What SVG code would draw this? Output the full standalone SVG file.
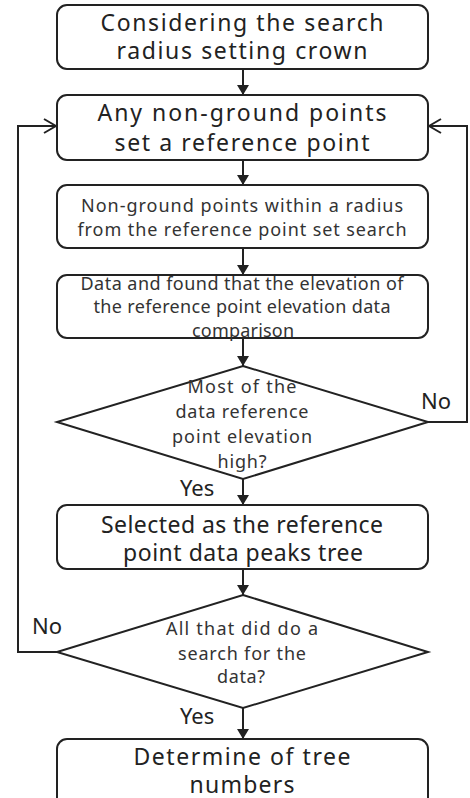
<svg xmlns="http://www.w3.org/2000/svg" width="470" height="798" viewBox="0 0 470 798">
<defs>
<style>
.box{fill:#fff;stroke:#222;stroke-width:2}
.ln{fill:none;stroke:#222;stroke-width:2}
.t{font-family:"Noto Sans","DejaVu Sans",sans-serif;fill:#222;text-anchor:middle}
.big{font-size:23px}
.sm{font-size:18px;fill:#333}
.lab{font-family:"Noto Sans","DejaVu Sans",sans-serif;fill:#222;font-size:22px}
</style>
<marker id="fa" markerWidth="12" markerHeight="12" refX="10" refY="6" orient="auto" markerUnits="userSpaceOnUse">
<path d="M0,0 L10,6 L0,12 Z" fill="#222"/>
</marker>
<marker id="oa" markerWidth="14" markerHeight="16" refX="13" refY="8" orient="auto" markerUnits="userSpaceOnUse">
<path d="M1,1 L13,8 L1,15" fill="none" stroke="#222" stroke-width="2"/>
</marker>
</defs>
<rect width="470" height="798" fill="#fff"/>

<g id="connectors">
<line class="ln" x1="243" y1="69" x2="243" y2="95" marker-end="url(#fa)"/>
<line class="ln" x1="243" y1="160" x2="243" y2="185" marker-end="url(#fa)"/>
<line class="ln" x1="243" y1="248" x2="243" y2="275" marker-end="url(#fa)"/>
<line class="ln" x1="243" y1="338" x2="243" y2="366" marker-end="url(#fa)"/>
<line class="ln" x1="243" y1="479" x2="243" y2="505" marker-end="url(#fa)"/>
<line class="ln" x1="243" y1="569" x2="243" y2="595" marker-end="url(#fa)"/>
<line class="ln" x1="243" y1="708" x2="243" y2="739" marker-end="url(#fa)"/>
<polyline class="ln" points="428,422 467,422 467,126 429,126" marker-end="url(#oa)"/>
<polyline class="ln" points="57,652 18,652 18,126 56,126" marker-end="url(#oa)"/>
<text class="lab" x="421" y="409">No</text>
<text class="lab" x="32" y="634">No</text>
<text class="lab" x="180" y="496">Yes</text>
<text class="lab" x="180" y="724">Yes</text>
</g>

<g id="n1">
<rect class="box" x="57" y="5" width="371" height="64" rx="10"/>
<text class="t big" x="242" y="31" textLength="283" lengthAdjust="spacing">Considering the search</text>
<text class="t big" x="242" y="59" textLength="251" lengthAdjust="spacing">radius setting crown</text>
</g>

<g id="n2">
<rect class="box" x="57" y="95" width="371" height="65" rx="10"/>
<text class="t big" x="242" y="121" textLength="289" lengthAdjust="spacing">Any non-ground points</text>
<text class="t big" x="242" y="151" textLength="255" lengthAdjust="spacing">set a reference point</text>
</g>

<g id="n3">
<rect class="box" x="57" y="185" width="371" height="63" rx="10"/>
<text class="t sm" x="242" y="212" textLength="322" lengthAdjust="spacing">Non-ground points within a radius</text>
<text class="t sm" x="242" y="236" textLength="329" lengthAdjust="spacing">from the reference point set search</text>
</g>

<g id="n4">
<rect class="box" x="57" y="275" width="371" height="63" rx="10"/>
<text class="t sm" x="242" y="290" textLength="323" lengthAdjust="spacing">Data and found that the elevation of</text>
<text class="t sm" x="242" y="313" textLength="297" lengthAdjust="spacing">the reference point elevation data</text>
<text class="t sm" x="243" y="337" textLength="102" lengthAdjust="spacing">comparison</text>
</g>

<g id="n5">
<polygon class="box" points="243,366 428,422 243,479 57,422"/>
<text class="t sm" x="242" y="393" textLength="109" lengthAdjust="spacing">Most of the</text>
<text class="t sm" x="242" y="418" textLength="133" lengthAdjust="spacing">data reference</text>
<text class="t sm" x="242" y="443" textLength="140" lengthAdjust="spacing">point elevation</text>
<text class="t sm" x="242" y="468" textLength="49" lengthAdjust="spacing">high?</text>
</g>

<g id="n6">
<rect class="box" x="57" y="505" width="371" height="64" rx="10"/>
<text class="t big" x="242" y="533" textLength="282" lengthAdjust="spacing">Selected as the reference</text>
<text class="t big" x="243" y="561" textLength="240" lengthAdjust="spacing">point data peaks tree</text>
</g>

<g id="n7">
<polygon class="box" points="243,595 428,652 243,708 57,652"/>
<text class="t sm" x="242" y="635" textLength="152" lengthAdjust="spacing">All that did do a</text>
<text class="t sm" x="242" y="660" textLength="128" lengthAdjust="spacing">search for the</text>
<text class="t sm" x="241" y="683" textLength="48" lengthAdjust="spacing">data?</text>
</g>

<g id="n8">
<rect class="box" x="57" y="739" width="371" height="70" rx="10"/>
<text class="t big" x="242" y="765" textLength="217" lengthAdjust="spacing">Determine of tree</text>
<text class="t big" x="242" y="793" textLength="105" lengthAdjust="spacing">numbers</text>
</g>
</svg>
